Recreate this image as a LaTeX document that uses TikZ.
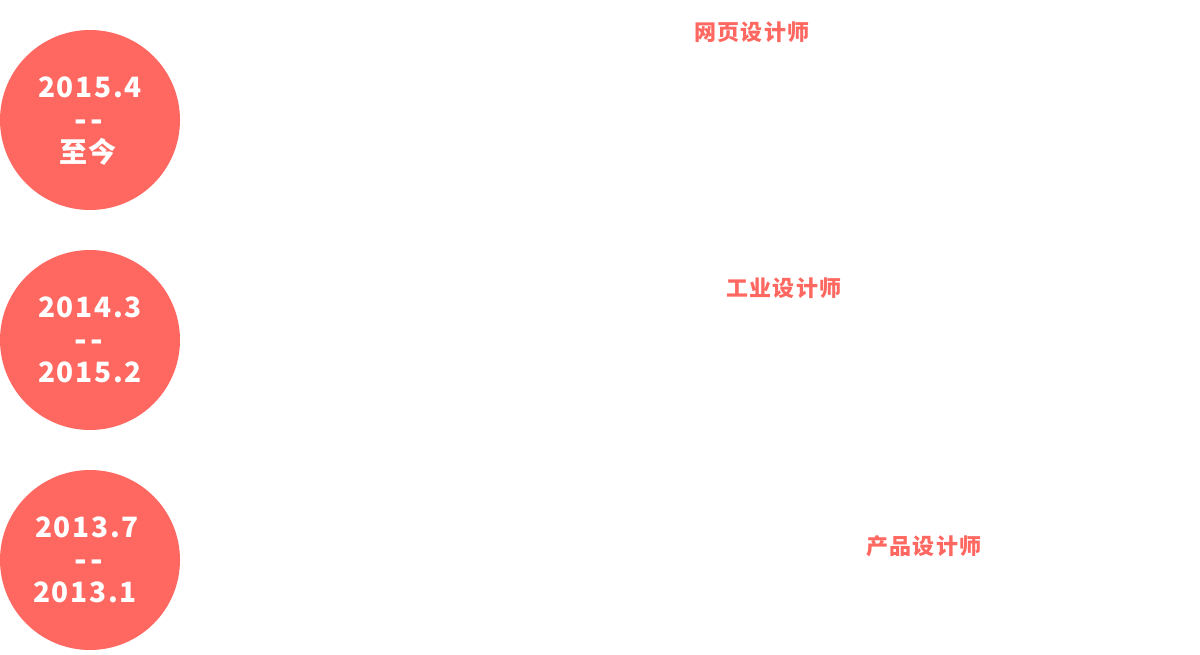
\documentclass[tikz,border=0pt]{standalone}
\usepackage{fontspec}
\usepackage{tikz}
\usetikzlibrary{positioning}
\newfontfamily\cjk{Noto Sans CJK SC}
\definecolor{coral}{RGB}{255,104,97}
\definecolor{textLight}{RGB}{255,255,255}

\tikzset{
    datedisc/.style={circle, fill=coral, minimum size=180pt, inner sep=0pt},
    dateline/.style={font=\cjk\bfseries\fontsize{28}{28}\selectfont\addfontfeatures{LetterSpace=6}, text=textLight, inner sep=0pt},
    dashline/.style={font=\cjk\bfseries\fontsize{33}{33}\selectfont\addfontfeatures{LetterSpace=12}, text=textLight, inner sep=0pt},
    nowline/.style={font=\cjk\bfseries\fontsize{28}{28}\selectfont\addfontfeatures{LetterSpace=4}, text=textLight, inner sep=0pt},
    jobtitle/.style={font=\cjk\bfseries\fontsize{22}{22}\selectfont\addfontfeatures{LetterSpace=5}, text=coral, inner sep=0pt},
}

\begin{document}
\begin{tikzpicture}[x=1pt, y=-1pt]
% Canvas: x in [0, 1200], y in [0, 655] (y runs downwards)
\useasboundingbox (0,0) rectangle (1200,655);

% --- Date discs on the left ---
\node[datedisc] (disc1) at (90,120) {};
\node[datedisc] (disc2) at (90,340) {};
\node[datedisc] (disc3) at (90,560) {};

% --- Dates inside the discs ---
\node[dateline] (from1) at (90,87)  {2015.4};
\node[dashline] (dash1) at (89,126) {--};
\node[nowline]  (to1)   at (88,152) {至今};

\node[dateline] (from2) at (90,307) {2014.3};
\node[dashline] (dash2) at (89,346) {--};
\node[dateline] (to2)   at (90,372) {2015.2};

\node[dateline] (from3) at (87,527) {2013.7};
\node[dashline] (dash3) at (89,566) {--};
\node[dateline] (to3)   at (85,592) {2013.1};

% --- Job titles ---
\node[jobtitle] (job1) at (752,32)  {网页设计师};
\node[jobtitle] (job2) at (784,288) {工业设计师};
\node[jobtitle] (job3) at (924,546) {产品设计师};

\end{tikzpicture}
\end{document}
